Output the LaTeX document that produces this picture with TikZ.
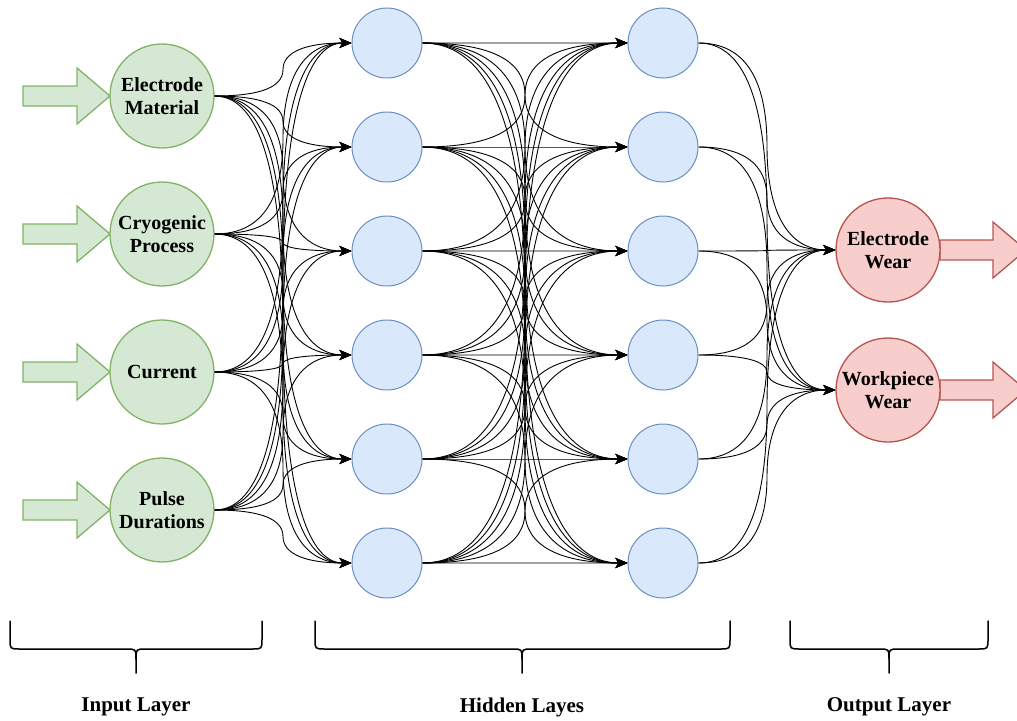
\documentclass[tikz,border=0pt]{standalone}
\usepackage{fontspec}
\setmainfont{Liberation Serif}
\usetikzlibrary{arrows.meta}
\definecolor{inF}{HTML}{D5E8D4}
\definecolor{inD}{HTML}{82B366}
\definecolor{hidF}{HTML}{DAE8FC}
\definecolor{hidD}{HTML}{6C8EBF}
\definecolor{outF}{HTML}{F8CECC}
\definecolor{outD}{HTML}{B85450}
\tikzset{
  lbl/.style={font=\bfseries\fontsize{20}{23}\selectfont, align=center, text=black},
  incirc/.style={circle, draw=inD, fill=inF, line width=1.3pt, minimum size=104pt, inner sep=0pt, lbl},
  hidcirc/.style={circle, draw=hidD, fill=hidF, line width=1pt, minimum size=70pt, inner sep=0pt},
  outcirc/.style={circle, draw=outD, fill=outF, line width=1.3pt, minimum size=104pt, inner sep=0pt, lbl},
  edge/.style={draw=black, line width=0.9pt, -{Stealth[length=12pt,width=10pt,inset=3pt]}},
  brace/.style={draw=black, line width=1.5pt, line cap=round},
  inarrow/.style={draw=inD, fill=inF, line width=1.3pt, line join=miter},
  outarrow/.style={draw=outD, fill=outF, line width=1.3pt, line join=miter},
  layerlbl/.style={font=\bfseries\fontsize{21}{24}\selectfont}
}
% #1 source node, #2 target node, #3 ys, #4 yt, #5 xm, #6 sx, #7 tx
\newcommand\netlink[7]{%
  \draw[edge] (#1.east) .. controls ({#6+2/3*(#5-#6)},#3) and (#5,{(#3+#4)/6+2*#3/3}) ..
    (#5,{(#3+#4)/2}) .. controls (#5,{(#3+#4)/6+2*#4/3}) and ({#7+2/3*(#5-#7)},#4) .. (#2.west);}
\begin{document}
\begin{tikzpicture}[x=1pt,y=-1pt]
\useasboundingbox (0,0) rectangle (1017,720);

% input arrows
\foreach \y in {96,234,372,510}{
  \draw[inarrow] (23,\y-10) -- (77,\y-10) -- (77,\y-28) -- (110,\y) -- (77,\y+28) -- (77,\y+10) -- (23,\y+10) -- cycle;
}
% output arrows
\foreach \y in {250,390}{
  \draw[outarrow] (940,\y-10) -- (993,\y-10) -- (993,\y-28) -- (1026,\y) -- (993,\y+28) -- (993,\y+10) -- (940,\y+10) -- cycle;
}

% nodes
\node[incirc] (i1) at (162,96) {Electrode\\Material};
\node[incirc] (i2) at (162,234) {Cryogenic\\Process};
\node[incirc] (i3) at (162,372) {Current};
\node[incirc] (i4) at (162,510) {Pulse\\Durations};

\foreach \j/\y in {1/43,2/147,3/251,4/355,5/459,6/563}{
  \node[hidcirc] (h\j) at (387,\y) {};
  \node[hidcirc] (k\j) at (663,\y) {};
}

\node[outcirc] (o1) at (888,250) {Electrode\\Wear};
\node[outcirc] (o2) at (888,390) {Workpiece\\Wear};

% edges input -> hidden1
\foreach \i/\yi in {1/96,2/234,3/372,4/510}{
  \foreach \j/\yj in {1/43,2/147,3/251,4/355,5/459,6/563}{
    \netlink{i\i}{h\j}{\yi}{\yj}{283}{215}{352}
  }
}
% edges hidden1 -> hidden2
\foreach \i/\yi in {1/43,2/147,3/251,4/355,5/459,6/563}{
  \foreach \j/\yj in {1/43,2/147,3/251,4/355,5/459,6/563}{
    \netlink{h\i}{k\j}{\yi}{\yj}{525}{422}{628}
  }
}
% edges hidden2 -> output
\foreach \i/\yi in {1/43,2/147,3/251,4/355,5/459,6/563}{
  \foreach \j/\yj in {1/250,2/390}{
    \netlink{k\i}{o\j}{\yi}{\yj}{767}{698}{836}
  }
}

% braces
\foreach \a/\c/\b in {10/136/262, 315/522/730, 790/889/988}{
  \draw[brace] (\a,621) -- (\a,639) .. controls (\a,649) .. (\a+10,649) -- (\c-10,649) .. controls (\c,649) .. (\c,659) -- (\c,673);
  \draw[brace] (\b,621) -- (\b,639) .. controls (\b,649) .. (\b-10,649) -- (\c+10,649) .. controls (\c,649) .. (\c,659);
}

\node[layerlbl] (l1) at (136,707) {Input Layer};
\node[layerlbl] (l2) at (522,707) {Hidden Layes};
\node[layerlbl] (l3) at (889,707) {Output Layer};
\end{tikzpicture}
\end{document}
